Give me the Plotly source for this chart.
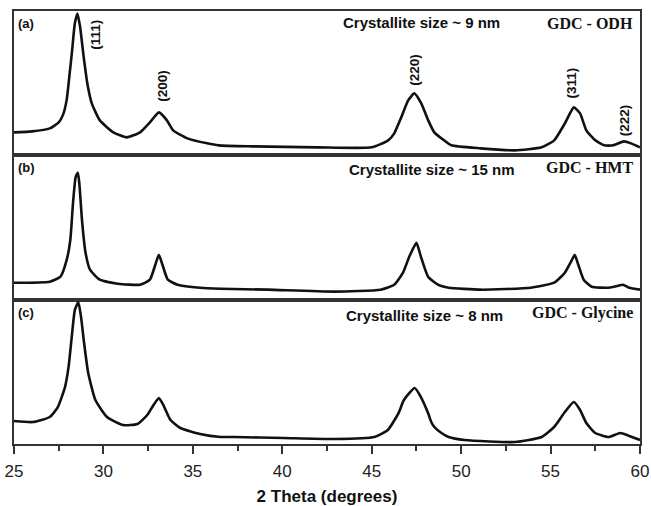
import plotly.graph_objects as go
from plotly.subplots import make_subplots

# ---- data (2θ in degrees, intensity in arbitrary units) ----
odh_x = [25.0, 26.0, 27.0, 27.5, 27.75, 27.95, 28.1, 28.25, 28.4, 28.55, 28.7, 28.9, 29.1, 29.35, 29.8,
         30.55, 31.3, 32.05, 32.6, 33.1, 33.55, 33.9, 34.7, 35.8, 36.45, 38.3, 42.0, 45.0, 45.92,
         46.26, 46.65, 47.04, 47.38, 47.77, 48.16, 48.5, 48.9, 49.45, 51.1, 53.0, 54.5, 55.2,
         55.8, 56.3, 56.65, 57.0, 57.5, 58.0, 58.5, 59.1, 59.5, 60.0]
odh_y = [23, 24, 27, 33, 41, 56, 80, 105, 132, 142, 128, 98, 72, 52, 35,
         23, 18, 23, 33, 43, 35, 25, 17, 12, 10, 9, 8, 8, 15,
         22, 38, 55, 62, 52, 35, 23, 17, 10, 7, 5, 8, 15,
         32, 48, 42, 25, 15, 10, 10, 14, 12, 8]

hmt_x = [25.0, 27.0, 27.6, 27.95, 28.15, 28.3, 28.45, 28.57, 28.65, 28.8, 29.0, 29.25, 29.8,
         30.8, 32.05, 32.6, 32.9, 33.1, 33.3, 33.6, 34.15, 35.4, 36.55, 39.2, 42.9, 45.5, 46.26,
         46.75, 47.1, 47.5, 47.75, 48.15, 48.7, 49.3, 51.1, 53.9, 55.2, 55.8, 56.2, 56.35, 56.55,
         56.85, 57.3, 58.25, 58.8, 59.05, 59.4, 60.0]
hmt_y = [17, 18, 23, 40, 60, 97, 123, 127, 117, 80, 47, 30, 20,
         16, 15, 20, 35, 45, 35, 20, 15, 12, 11, 10, 8, 10, 15,
         27, 43, 57, 43, 23, 15, 12, 10, 12, 17, 27, 40, 45, 35,
         20, 13, 12, 14, 15, 12, 10]

gly_x = [25.0, 26.05, 27.0, 27.45, 27.85, 28.05, 28.25, 28.4, 28.6, 28.75, 28.9, 29.15, 29.55,
         30.2, 31.1, 31.9, 32.45, 32.8, 33.1, 33.35, 33.75, 34.3, 35.4, 36.55, 37.3, 40.1, 42.9,
         45.15, 45.9, 46.5, 46.8, 47.4, 47.75, 48.15, 48.33, 48.5, 48.9, 49.3, 50.2, 53.0, 54.5,
         55.2, 55.8, 56.3, 56.65, 57.0, 57.5, 58.25, 58.9, 59.55, 60.0]
gly_y = [23, 22, 27, 37, 57, 77, 111, 134, 142, 127, 104, 71, 44,
         27, 19, 20, 29, 39, 46, 39, 24, 16, 10, 7, 7, 6, 5,
         7, 14, 31, 44, 56, 47, 31, 22, 17, 11, 7, 4, 2, 7,
         17, 32, 42, 34, 21, 11, 7, 11, 7, 4]

panel_tags = ["(a)", "(b)", "(c)"]
sizes = ["Crystallite size ~ 9 nm", "Crystallite size ~ 15 nm", "Crystallite size ~ 8 nm"]
samples = ["GDC - ODH", "GDC - HMT", "GDC - Glycine"]
peak_labels = ["(111)", "(200)", "(220)", "(311)", "(222)"]
peak_label_x = [29.54, 33.3, 47.38, 56.18, 59.1]
peak_label_y = [121, 70, 86, 72.5, 35]
x_ticks = [25, 30, 35, 40, 45, 50, 55, 60]

series = [(odh_x, odh_y), (hmt_x, hmt_y), (gly_x, gly_y)]

fig = make_subplots(rows=3, cols=1, shared_xaxes=False, vertical_spacing=0)

for i, (xs, ys) in enumerate(series):
    fig.add_trace(go.Scatter(x=xs, y=ys, mode="lines",
                             line=dict(color="#111111", width=2.6, shape="spline", smoothing=0.5),
                             showlegend=False, hoverinfo="skip"), row=i + 1, col=1)

SANS = "Liberation Sans, Arial, sans-serif"
SERIF = "Liberation Serif, Times New Roman, serif"
axcol = "#333333"

for i in range(3):
    r = i + 1
    fig.update_yaxes(range=[0, 144.5], showticklabels=False, ticks="", showgrid=False,
                     zeroline=False, showline=True, linecolor=axcol, linewidth=2, mirror=True,
                     automargin=False, row=r, col=1)
    fig.update_xaxes(range=[25, 60], showgrid=False, zeroline=False, showline=True,
                     linecolor=axcol, linewidth=2, mirror=True, automargin=False,
                     showticklabels=(r == 3), ticks=("outside" if r == 3 else ""),
                     row=r, col=1)
    xr = "x" if r == 1 else f"x{r}"
    yr = "y" if r == 1 else f"y{r}"
    fig.add_annotation(x=25.1, y=132, xref=xr, yref=yr, text=f"<b>{panel_tags[i]}</b>",
                       showarrow=False, xanchor="left", yanchor="middle",
                       font=dict(family=SANS, size=13, color="#111"))
    fig.add_annotation(x=[47.8, 48.38, 47.94][i], y=[133, 130, 129][i], xref=xr, yref=yr,
                       text=f"<b>{sizes[i]}</b>", showarrow=False, xanchor="center",
                       yanchor="middle", font=dict(family=SANS, size=15, color="#111"))
    fig.add_annotation(x=59.72, y=[132, 132, 131][i], xref=xr, yref=yr,
                       text=f"<b>{samples[i]}</b>", showarrow=False, xanchor="right",
                       yanchor="middle", font=dict(family=SERIF, size=16, color="#111"))

for lab, lx, ly in zip(peak_labels, peak_label_x, peak_label_y):
    fig.add_annotation(x=lx, y=ly, xref="x", yref="y", text=f"<b>{lab}</b>", textangle=-90,
                       showarrow=False, xanchor="center", yanchor="middle",
                       font=dict(family=SANS, size=13.5, color="#111"))

fig.update_xaxes(tickvals=x_ticks, ticklen=8, tickwidth=2, tickcolor=axcol,
                 ticklabelstandoff=3,
                 tickfont=dict(family=SANS, size=17, color="#222"),
                 minor=dict(dtick=2.5, ticklen=5, tickwidth=2, tickcolor=axcol, ticks="outside"),
                 title=dict(text="<b>2 Theta (degrees)</b>", font=dict(family=SANS, size=17, color="#111"),
                            standoff=16),
                 row=3, col=1)

fig.update_layout(width=651, height=506, margin=dict(l=14, r=11, t=11, b=62, autoexpand=False),
                  plot_bgcolor="white", paper_bgcolor="white")

fig.write_html("out.html")
